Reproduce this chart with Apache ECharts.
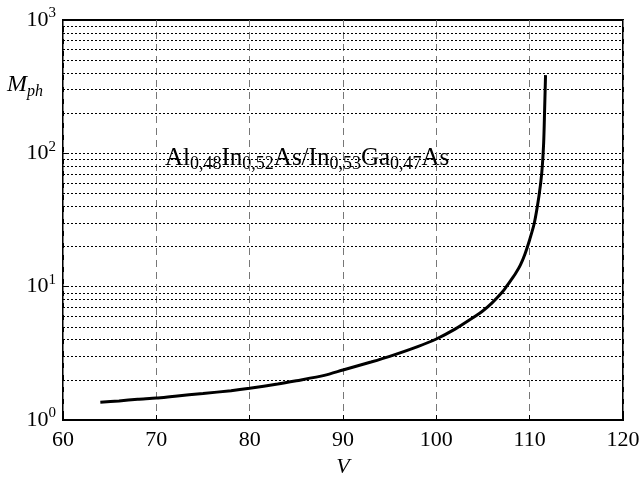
<!DOCTYPE html>
<html>
<head>
<meta charset="utf-8">
<script src="https://cdn.jsdelivr.net/npm/echarts@6/dist/echarts.min.js"></script>
<style>
html,body{margin:0;padding:0;background:#fff;}
#chart{width:640px;height:481px;}
</style>
</head>
<body>
<div id="chart"></div>
<script>
// bias voltage V and photocurrent gain M_ph
var voltage = [64, 66, 68, 70, 72, 75, 78, 80, 83, 85, 88, 90, 93, 95, 98, 100, 102, 104, 105, 106, 107, 107.5, 108, 108.5, 109, 109.5, 110, 110.5, 111, 111.3, 111.5, 111.6, 111.7];
var gain = [1.36, 1.39, 1.43, 1.46, 1.51, 1.58, 1.66, 1.73, 1.86, 1.97, 2.16, 2.37, 2.72, 3.0, 3.55, 4.05, 4.8, 5.9, 6.6, 7.6, 9.0, 10.0, 11.2, 12.6, 14.5, 17.6, 22.5, 30, 48, 72, 120, 210, 386];
var xTicks = [60, 70, 80, 90, 100, 110, 120];
var minorLevels = [2, 3, 4, 5, 6, 7, 8, 9, 20, 30, 40, 50, 60, 70, 80, 90, 200, 300, 400, 500, 600, 700, 800, 900];

var serif = 'Liberation Serif';
var points = voltage.map(function (v, i) { return [v, gain[i]]; });

var chart = echarts.init(document.getElementById('chart'));
var option = {
	backgroundColor: '#fff',
	animation: false,
	grid: {
		left: 63, right: 17, top: 20, bottom: 61,
		outerBoundsMode: 'none',
		containLabel: false,
		show: true, borderColor: '#000', borderWidth: 2
	},
	xAxis: {
		type: 'value',
		min: xTicks[0],
		max: xTicks[xTicks.length - 1],
		interval: 10,
		name: 'V',
		nameLocation: 'middle',
		nameGap: 36,
		nameTextStyle: { fontFamily: serif, fontStyle: 'italic', fontSize: 22, color: '#000' },
		axisLine: { show: false },
		axisTick: { inside: true, length: 5, lineStyle: { color: '#000' } },
		axisLabel: { fontFamily: serif, fontSize: 22, color: '#000', margin: 9 },
		splitLine: {
			show: true,
			lineStyle: { color: '#777', type: [7, 5], width: 1 }
		}
	},
	yAxis: {
		type: 'log',
		logBase: 10,
		min: 1,
		max: 1000,
		axisLine: { show: false },
		axisTick: { inside: true, length: 5, lineStyle: { color: '#000' } },
		axisLabel: {
			margin: 7,
			formatter: function (v) {
				return '10{sup|' + Math.round(Math.log(v) / Math.LN10) + '}';
			},
			fontFamily: serif, fontSize: 22, color: '#000', lineHeight: 28,
			rich: {
				sup: { fontFamily: serif, fontSize: 15, color: '#000', verticalAlign: 'top', lineHeight: 15 }
			}
		},
		splitLine: {
			show: true,
			lineStyle: { color: '#000', type: [2, 2], width: 1 }
		}
	},
	graphic: [
		{
			type: 'text',
			left: 7,
			top: 70,
			style: {
				text: 'M{s|ph}',
				font: 'italic 24px "Liberation Serif"',
				fill: '#000',
				lineHeight: 30,
				rich: {
					s: { fontFamily: serif, fontStyle: 'italic', fontSize: 16, lineHeight: 16, verticalAlign: 'bottom', fill: '#000' }
				}
			}
		},
		{
			type: 'text',
			left: 165,
			top: 143,
			style: {
				text: 'Al{s|0,48}In{s|0,52}As/In{s|0,53}Ga{s|0,47}As',
				font: '25px "Liberation Serif"',
				fill: '#000',
				lineHeight: 30,
				rich: {
					s: { fontFamily: serif, fontSize: 18, lineHeight: 18, verticalAlign: 'bottom', fill: '#000' }
				}
			}
		}
	],
	series: [
		{
			type: 'line',
			data: points,
			showSymbol: false,
			smooth: 0.25,
			lineStyle: { color: '#000', width: 3 },
			z: 5,
			markLine: {
				silent: true,
				symbol: 'none',
				label: { show: false },
				lineStyle: { color: '#000', type: [2, 2], width: 1 },
				data: minorLevels.map(function (m) { return { yAxis: m }; })
			}
		}
	]
};
chart.setOption(option);
</script>
</body>
</html>
